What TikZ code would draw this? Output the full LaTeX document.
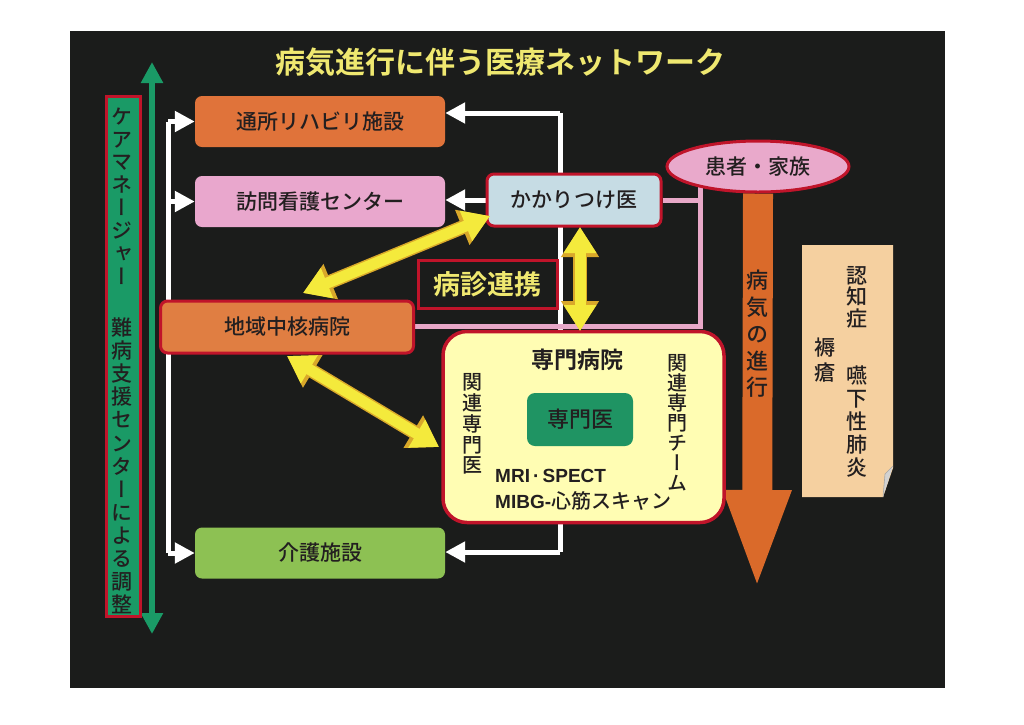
\documentclass[tikz,border=0pt]{standalone}
\usepackage{fontspec}
\setmainfont{Liberation Sans}
\newfontfamily\jp{Noto Sans CJK JP Medium}
\newfontfamily\jpv{Noto Sans CJK JP Medium}[RawFeature=+vert]
\newfontfamily\jpb{Noto Sans CJK JP Bold}
\usetikzlibrary{arrows.meta,shapes.geometric}
\definecolor{bgblack}{HTML}{1B1C1B}
\definecolor{titley}{HTML}{EFE870}
\definecolor{txt}{HTML}{231F20}
\definecolor{redc}{HTML}{C0142A}
\definecolor{orA}{HTML}{E0733A}
\definecolor{orB}{HTML}{E07E42}
\definecolor{pinkA}{HTML}{E9A7CD}
\definecolor{greenA}{HTML}{8DC153}
\definecolor{blueA}{HTML}{C6DCE4}
\definecolor{pinkE}{HTML}{E9A9CB}
\definecolor{yelbox}{HTML}{FFFDB3}
\definecolor{greenS}{HTML}{1F9463}
\definecolor{greenL}{HTML}{1A9A66}
\definecolor{orArrow}{HTML}{DA6A2A}
\definecolor{beige}{HTML}{F5D0A0}
\definecolor{yel}{HTML}{F4EA3C}
\definecolor{yeledge}{HTML}{D9A82A}
\definecolor{pinkl}{HTML}{E8A8C8}
\pgfdeclarelayer{bg}
\pgfdeclarelayer{conn}
\pgfsetlayers{bg,conn,main}
\begin{document}
\begin{tikzpicture}[x=1pt,y=-1pt,
  box/.style={rounded corners=7pt, minimum width=250pt, minimum height=51pt, text=txt,
    font=\jp\fontsize{21}{24}\selectfont, inner sep=0pt},
  redframe/.style={draw=redc, line width=3pt},
  vt/.style={align=center, inner sep=0pt, text=txt},
  wline/.style={draw=white, line width=5pt},
  wtip/.style={-{Triangle[width=20pt,length=20pt]}},
  pline/.style={draw=pinkl, line width=5pt},
  yarr/.style={draw=yel, line width=11pt, {Triangle[width=31pt,length=26pt]}-{Triangle[width=31pt,length=26pt]}},
  yarrE/.style={draw=yeledge, line width=14pt, {Triangle[width=36pt,length=30pt]}-{Triangle[width=36pt,length=30pt]}},
]
\useasboundingbox (0,0) rectangle (1024,724);
\begin{pgfonlayer}{bg}
  \fill[white] (0,0) rectangle (1024,724);
  \fill[bgblack] (70,31) rectangle (945,688);
\end{pgfonlayer}

% title
\node[text=titley, font=\jpb\fontsize{30}{34}\selectfont, inner sep=0pt] (title) at (500,62) {病気進行に伴う医療ネットワーク};

% left coordination bar
\coordinate (gT) at (152,62);
\coordinate (gB) at (152,634);
\draw[draw=greenL, line width=6pt, {Triangle[width=21pt,length=21pt]}-{Triangle[width=21pt,length=21pt]}] (gT) -- (gB);
\node[fill=greenL, redframe, minimum width=34pt, minimum height=520pt, inner sep=0pt] (cmbox) at (123.5,356) {};
\node[vt, font=\jpv\fontsize{21}{22.9}\selectfont] (cm1) at (122,196) {ケ\\ア\\マ\\ネ\\ー\\ジ\\ャ\\ー};
\node[vt, font=\jpv\fontsize{21}{23.1}\selectfont] (cm2) at (122,466) {難\\病\\支\\援\\セ\\ン\\タ\\ー\\に\\よ\\る\\調\\整};

% boxes
\node[box, fill=orA] (tsusho) at (320,121.5) {通所リハビリ施設};
\node[box, fill=pinkA] (houmon) at (320,201.5) {訪問看護センター};
\node[box, fill=orB, redframe, minimum width=253pt, minimum height=52pt] (chiiki) at (287,327) {地域中核病院};
\node[box, fill=greenA] (kaigo) at (320,553) {介護施設};
\node[box, fill=blueA, redframe, minimum width=174pt, minimum height=52pt] (kakari) at (574,200) {かかりつけ医};
\node[ellipse, fill=pinkE, redframe, minimum width=182pt, minimum height=51pt, inner sep=0pt, text=txt,
  font=\jp\fontsize{21}{24}\selectfont] (kanja) at (758,166.5) {患者・家族};
\node[fill=bgblack, redframe, minimum width=139pt, minimum height=48pt, inner sep=0pt, text=titley,
  font=\jpb\fontsize{27}{30}\selectfont] (byoshin) at (487.5,284) {病診連携};

% specialist hospital
\node[fill=yelbox, draw=redc, line width=3.5pt, rounded corners=24pt, minimum width=281pt, minimum height=191pt, inner sep=0pt] (senmon) at (583.5,427) {};
\node[text=txt, inner sep=0pt, font=\jpb\fontsize{23}{26}\selectfont] (senmonT) at (577,360) {専門病院};
\node[fill=greenS, rounded corners=8pt, minimum width=106pt, minimum height=53pt, inner sep=0pt, text=txt,
  font=\jp\fontsize{22}{24}\selectfont] (senmoni) at (580,419.5) {専門医};
\node[vt, font=\jpv\fontsize{20}{20.8}\selectfont] (kanren1) at (472,424) {関\\連\\専\\門\\医};
\node[vt, font=\jpv\fontsize{20}{20}\selectfont] (kanren2) at (677,423) {関\\連\\専\\門\\チ\\ー\\ム};
\node[text=txt, inner sep=0pt, anchor=west, font=\bfseries\fontsize{19}{22}\selectfont] (mri) at (495,476) {MRI\,·\,SPECT};
\node[text=txt, inner sep=0pt, anchor=west, font=\bfseries\fontsize{19}{22}\selectfont] (mibg) at (495,501) {MIBG-{\jp\mdseries\fontsize{20}{22}\selectfont 心筋スキャン}};

% note
\fill[beige] (802,245) -- (893,245) -- (893,468) -- (883,497) -- (802,497) -- cycle;
\fill[gray!35] (893,466) -- (883,497) -- (885,474) -- cycle;
\draw[gray!70, line width=0.6pt] (893,466) -- (885,474) -- (883,497);
\node[vt, font=\jpv\fontsize{21}{21.5}\selectfont] (ninchi) at (857,297) {認\\知\\症};
\node[vt, font=\jpv\fontsize{21}{25}\selectfont] (jokuso) at (825,360) {褥\\瘡};
\node[vt, font=\jpv\fontsize{21}{23}\selectfont] (enge) at (857,422) {嚥\\下\\性\\肺\\炎};

% connectors
\coordinate (lsx) at (168,0);
\coordinate (rsT) at (560,113);
\coordinate (rsB) at (560,552);
\coordinate (px) at (700,180);
\coordinate (pB) at (700,326);
\coordinate (oTip) at (757,592);
\begin{pgfonlayer}{conn}
  \draw[wline] (tsusho.west -| lsx) -- (kaigo.west -| lsx);
  \draw[wline, wtip] (tsusho.west -| lsx) -- (tsusho.west);
  \draw[wline, wtip] (houmon.west -| lsx) -- (houmon.west);
  \draw[wline, wtip] (kaigo.west -| lsx) -- (kaigo.west);
  \draw[wline, line join=miter] (rsB) -- (rsT);
  \draw[wline, wtip] (rsT) -- (rsT -| tsusho.east);
  \draw[wline, wtip] (rsB) -- (rsB -| kaigo.east);
  \draw[wline, wtip] (kakari.west) -- (kakari.west -| houmon.east);
  \draw[pline] (kakari.east) -- (kakari.east -| px);
  \draw[pline, line join=miter] (px) -- (pB) -- (pB -| chiiki.east);
  \draw[draw=orArrow, line width=30pt, -{Triangle[width=60pt,length=102pt]}] (kanja.south) -- (oTip);
\end{pgfonlayer}
\node[vt, font=\jpv\fontsize{22}{26.8}\selectfont] (shinko) at (757,334) {病\\気\\の\\進\\行};

% yellow double arrows
\coordinate (y1a) at (303,293);
\coordinate (y1b) at (490,216);
\coordinate (y2a) at (287,356);
\coordinate (y2b) at (439,447);
\coordinate (y3a) at (580,227);
\coordinate (y3b) at (580,331);
\draw[yarrE] (y1a) -- (y1b);
\draw[yarrE] (y2a) -- (y2b);
\draw[yarrE] (y3a) -- (y3b);
\draw[yarr] (y1a) -- (y1b);
\draw[yarr] (y2a) -- (y2b);
\draw[yarr] (y3a) -- (y3b);
\end{tikzpicture}
\end{document}
